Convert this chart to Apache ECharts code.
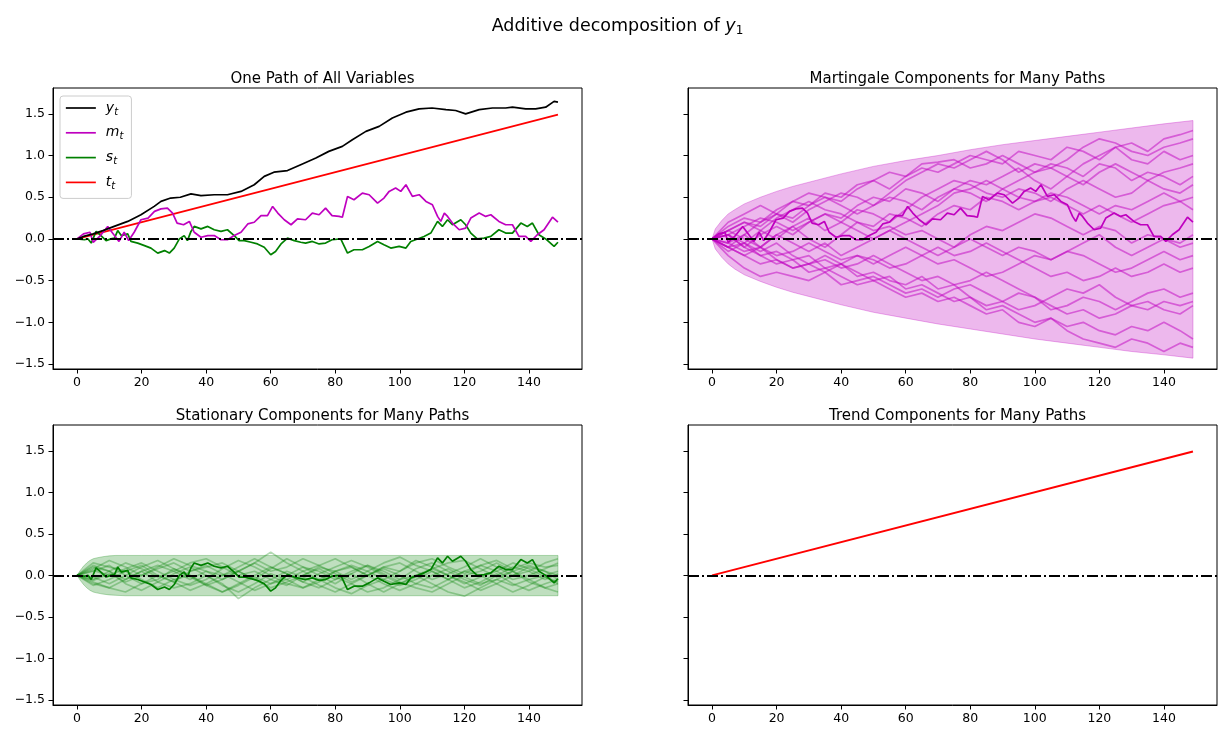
<!DOCTYPE html>
<html><head><meta charset="utf-8">
<script src="https://cdn.jsdelivr.net/npm/echarts@6/dist/echarts.min.js"></script>
<style>html,body{margin:0;padding:0;background:#fff}#c{width:1225px;height:739px}</style>
</head><body><div id="c"></div>
<script>
const FONT = 'DejaVu Sans';
const xTicks = [0, 20, 40, 60, 80, 100, 120, 140];
const yTicks = [-1.5, -1.0, -0.5, 0.0, 0.5, 1.0, 1.5];
const legendNames = ['y_t', 'm_t', 's_t', 't_t'];
const panelTitles = ['One Path of All Variables', 'Martingale Components for Many Paths',
                     'Stationary Components for Many Paths', 'Trend Components for Many Paths'];

// One path of all variables: [t, value]
const yPath = [[0,0],[2,0.03],[5,0.06],[8,0.1],[11.5,0.15],[15.7,0.21],[19.8,0.29],[23.9,0.39],[26,0.45],[29,0.49],[32,0.5],[35.3,0.54],[38.4,0.52],[42.5,0.53],[46.6,0.53],[50.8,0.57],[54.9,0.65],[58,0.75],[61,0.8],[65.2,0.82],[69.3,0.89],[74,0.97],[78,1.05],[82.2,1.11],[85.3,1.19],[89.5,1.29],[93.6,1.35],[97.7,1.45],[101.9,1.52],[106,1.56],[110,1.57],[114.3,1.55],[117.3,1.54],[120.4,1.5],[124.6,1.55],[128.7,1.57],[132.8,1.57],[134.9,1.58],[139,1.56],[142.1,1.56],[145.2,1.58],[147.8,1.65],[149,1.64]];
const mPath = [[0,0],[2,0.06],[4,0.08],[5,-0.04],[7,0.03],[9.5,0.15],[11,0.07],[13,-0.03],[14.6,0.08],[16,-0.02],[17.7,0.08],[19.8,0.23],[22,0.25],[24,0.33],[26,0.36],[28,0.37],[29.6,0.31],[31,0.19],[33,0.17],[34.8,0.21],[36.3,0.08],[38.4,0.02],[40.5,0.04],[42.5,0.04],[44.6,-0.01],[46.6,-0.01],[48.7,0.04],[50.8,0.08],[52.9,0.18],[54.9,0.2],[57,0.28],[59,0.28],[60.6,0.39],[62.2,0.31],[64.2,0.23],[66.3,0.17],[68.3,0.24],[70.8,0.23],[72.9,0.31],[75,0.29],[77,0.37],[79,0.28],[81.2,0.27],[82.2,0.26],[83.8,0.51],[85.8,0.47],[88.4,0.55],[90.5,0.53],[93.1,0.43],[95.1,0.49],[96.7,0.57],[98.7,0.61],[100.3,0.57],[101.9,0.65],[103.9,0.51],[106,0.53],[108.1,0.45],[110.1,0.41],[111.7,0.27],[112.7,0.21],[113.8,0.31],[114.8,0.27],[116.3,0.19],[118.4,0.11],[120.4,0.13],[122,0.25],[124.6,0.31],[126.6,0.27],[128.2,0.29],[130.7,0.21],[132.8,0.17],[134.9,0.17],[136.9,0.03],[139,0.03],[140.6,-0.03],[142.6,0.05],[144.7,0.11],[147.3,0.26],[149,0.2]];
const sPath = [[0,0],[2.3,-0.01],[3.4,0],[4.4,-0.05],[5.9,0.09],[7.4,0.04],[9,-0.02],[10.5,0],[11.6,0.01],[12.6,0.1],[13.7,0.04],[15.7,0.06],[16.7,-0.03],[18.8,-0.05],[20.9,-0.08],[22.9,-0.11],[25,-0.17],[27.1,-0.14],[28.6,-0.17],[30.1,-0.11],[31.7,0],[33.2,0.04],[34.2,-0.02],[35.3,0.09],[36.3,0.15],[38.4,0.12],[40.5,0.15],[42.5,0.11],[44.6,0.09],[46.6,0.11],[48.7,0.04],[50.2,-0.02],[51.8,-0.02],[53.9,-0.04],[55.9,-0.06],[58,-0.1],[60,-0.19],[61.5,-0.15],[63.2,-0.06],[65.2,0.01],[67.3,-0.02],[69.3,-0.04],[70.8,-0.05],[72.9,-0.03],[75,-0.06],[77,-0.05],[79,-0.01],[81.7,0],[83.8,-0.17],[85.8,-0.13],[88.4,-0.13],[90.5,-0.09],[93.1,-0.03],[95.1,-0.07],[97.2,-0.11],[99.8,-0.09],[101.9,-0.11],[103.4,-0.03],[105.5,0],[107.5,0.03],[109.6,0.07],[111.7,0.21],[113.2,0.15],[114.8,0.23],[116.3,0.17],[118.9,0.23],[120.4,0.17],[122,0.07],[124,0],[126.1,0.01],[128.2,0.03],[130.7,0.11],[132.8,0.07],[134.9,0.07],[137.5,0.19],[139.5,0.15],[141.1,0.19],[143.1,0.05],[145.2,0],[147.8,-0.09],[149,-0.04]];
const trendPath = [[0,0],[149,1.49]];

// Martingale confidence band
const mBandT = [0,1,2,3,5,7,10,15,20,25,30,40,50,60,70,80,90,100,110,120,130,140,149];
const mBandUpper = [0,0.12,0.17,0.22,0.3,0.35,0.42,0.5,0.57,0.63,0.68,0.78,0.87,0.94,1.0,1.07,1.13,1.18,1.23,1.28,1.33,1.38,1.42];
const mBandLower = [0,-0.12,-0.17,-0.22,-0.3,-0.36,-0.43,-0.51,-0.58,-0.64,-0.69,-0.79,-0.88,-0.95,-1.02,-1.08,-1.14,-1.2,-1.25,-1.3,-1.35,-1.39,-1.43];

// Stationary band
const sBandT = [0,1,2,3,4,5,6,8,10,12,15,20,40,60,80,100,120,149];
const sBandUpper = [0,0.06,0.11,0.15,0.18,0.2,0.21,0.225,0.235,0.24,0.24,0.24,0.24,0.24,0.24,0.24,0.24,0.24];
const sBandLower = [0,-0.06,-0.11,-0.15,-0.18,-0.2,-0.21,-0.225,-0.235,-0.24,-0.245,-0.245,-0.245,-0.245,-0.245,-0.245,-0.245,-0.245];

// Many paths, sampled every 5 periods
const pathT = [0,5,10,15,20,25,30,35,40,45,50,55,60,65,70,75,80,85,90,95,100,105,110,115,120,125,130,135,140,145,149];
const martingalePaths = [
  [0,0.15,0.25,0.2,0.35,0.45,0.4,0.55,0.5,0.65,0.7,0.6,0.75,0.85,0.8,0.9,1.0,0.95,0.9,1.05,1.0,0.95,1.1,1.05,0.95,1.1,1.15,1.05,1.2,1.25,1.3],
  [0,-0.1,0.05,0.2,0.3,0.25,0.4,0.5,0.45,0.6,0.7,0.8,0.75,0.9,0.92,0.95,0.85,0.9,1.0,0.9,0.8,0.85,0.95,1.1,1.2,1.15,1.05,1.0,1.1,1.15,1.2],
  [0,0.1,0.2,0.15,0.3,0.2,0.35,0.45,0.55,0.5,0.4,0.55,0.7,0.8,0.9,0.85,0.95,1.05,0.95,0.8,0.9,0.85,0.75,0.9,1.0,1.1,0.95,0.9,1.05,0.95,1.0],
  [0,0.05,-0.1,0.05,0.15,0.05,0.2,0.3,0.25,0.4,0.5,0.45,0.6,0.55,0.45,0.6,0.7,0.65,0.75,0.85,0.7,0.6,0.75,0.65,0.8,0.9,0.8,0.7,0.8,0.85,0.9],
  [0,0.2,0.3,0.4,0.3,0.45,0.55,0.5,0.4,0.3,0.4,0.5,0.45,0.35,0.5,0.6,0.55,0.45,0.6,0.7,0.8,0.9,0.85,0.75,0.9,0.85,0.7,0.8,0.75,0.65,0.75],
  [0,-0.15,-0.05,0.1,0.0,0.15,0.25,0.1,0.2,0.35,0.3,0.2,0.35,0.5,0.6,0.7,0.65,0.55,0.5,0.6,0.55,0.45,0.6,0.7,0.6,0.5,0.55,0.7,0.6,0.55,0.65],
  [0,0.1,0.0,-0.1,0.05,0.15,0.0,-0.1,0.05,0.2,0.15,0.3,0.25,0.15,0.3,0.4,0.35,0.5,0.45,0.35,0.45,0.55,0.5,0.4,0.3,0.4,0.35,0.45,0.55,0.45,0.5],
  [0,0.05,0.15,0.25,0.2,0.1,0.2,0.3,0.2,0.1,0.0,0.1,0.2,0.3,0.4,0.55,0.6,0.7,0.6,0.5,0.45,0.5,0.4,0.3,0.4,0.3,0.2,0.3,0.4,0.45,0.35],
  [0,-0.1,-0.2,-0.1,0.05,-0.05,-0.15,-0.05,-0.2,-0.1,0.0,0.1,0.0,-0.1,-0.2,-0.1,0.05,0.15,0.1,0.2,0.3,0.25,0.15,0.05,0.15,0.1,-0.05,0.05,0.0,-0.05,0.05],
  [0,0.1,0.2,0.1,0.25,0.35,0.45,0.35,0.3,0.2,0.1,0.15,0.05,0.1,0.0,-0.1,0.0,-0.1,-0.2,-0.1,-0.15,-0.25,-0.15,-0.05,0.05,-0.1,-0.2,-0.1,0.0,-0.1,-0.05],
  [0,-0.05,0.05,-0.1,-0.2,-0.15,-0.05,-0.15,-0.25,-0.2,-0.3,-0.2,-0.1,-0.2,-0.3,-0.25,-0.35,-0.45,-0.4,-0.3,-0.2,-0.25,-0.15,-0.2,-0.3,-0.4,-0.35,-0.25,-0.15,-0.25,-0.2],
  [0,-0.1,-0.2,-0.3,-0.25,-0.35,-0.3,-0.4,-0.3,-0.2,-0.25,-0.35,-0.3,-0.2,-0.1,-0.2,-0.15,-0.05,-0.15,-0.25,-0.35,-0.45,-0.4,-0.5,-0.45,-0.35,-0.45,-0.4,-0.3,-0.4,-0.35],
  [0,-0.05,-0.15,-0.1,-0.25,-0.35,-0.3,-0.2,-0.3,-0.45,-0.4,-0.5,-0.55,-0.45,-0.6,-0.55,-0.7,-0.8,-0.75,-0.65,-0.7,-0.85,-0.8,-0.7,-0.75,-0.85,-0.75,-0.65,-0.6,-0.7,-0.65],
  [0,0.05,-0.05,-0.15,-0.05,-0.2,-0.3,-0.25,-0.35,-0.3,-0.2,-0.3,-0.4,-0.5,-0.45,-0.55,-0.5,-0.4,-0.5,-0.6,-0.7,-0.8,-0.9,-0.85,-0.95,-0.9,-0.8,-0.85,-0.75,-0.8,-0.75],
  [0,-0.2,-0.35,-0.45,-0.4,-0.45,-0.5,-0.4,-0.55,-0.5,-0.45,-0.55,-0.65,-0.6,-0.7,-0.6,-0.55,-0.65,-0.75,-0.85,-0.8,-0.7,-0.6,-0.65,-0.55,-0.7,-0.8,-0.75,-0.85,-0.9,-0.8],
  [0,-0.1,-0.05,-0.2,-0.15,-0.25,-0.2,-0.35,-0.3,-0.4,-0.5,-0.45,-0.6,-0.55,-0.65,-0.75,-0.7,-0.85,-0.8,-0.9,-1.0,-0.95,-1.05,-1.0,-1.1,-1.15,-1.05,-1.1,-1.0,-1.1,-1.2],
  [0,0.05,-0.1,-0.2,-0.3,-0.25,-0.4,-0.35,-0.45,-0.55,-0.5,-0.6,-0.7,-0.65,-0.75,-0.7,-0.8,-0.9,-0.85,-1.0,-1.05,-0.95,-1.1,-1.2,-1.25,-1.3,-1.2,-1.25,-1.35,-1.25,-1.3]
];
const stationaryPaths = [
  [0,0.15,0.1,0.05,0.12,0.0,-0.08,0.05,0.1,0.15,0.05,-0.05,0.08,0.2,0.1,0.0,-0.1,0.02,0.12,0.05,-0.05,0.08,0.15,0.05,-0.05,-0.12,0.0,0.1,0.05,-0.05,0.02],
  [0,-0.1,-0.15,-0.05,0.05,-0.08,-0.15,-0.1,0.0,-0.12,-0.2,-0.1,0.02,-0.05,-0.15,-0.08,0.05,0.1,0.0,-0.1,-0.18,-0.1,0.0,0.08,-0.02,-0.1,-0.05,0.05,-0.08,-0.15,-0.1],
  [0,0.08,0.18,0.1,0.0,0.1,0.2,0.12,0.05,-0.05,0.05,0.15,0.28,0.15,0.05,0.12,0.2,0.1,0.0,0.1,0.05,0.15,0.2,0.1,0.02,0.12,0.18,0.08,0.15,0.1,0.12],
  [0,-0.05,0.05,-0.1,-0.18,-0.08,0.02,0.1,0.0,-0.1,-0.28,-0.15,-0.05,0.05,-0.02,-0.12,-0.2,-0.1,0.0,0.08,0.0,-0.1,-0.15,-0.05,0.05,0.0,-0.1,-0.2,-0.12,-0.02,-0.08],
  [0,0.1,0.05,0.15,0.08,-0.02,0.05,0.15,0.2,0.1,0.0,0.05,-0.05,-0.12,0.0,0.1,0.05,-0.05,0.05,0.15,0.22,0.12,0.05,-0.05,0.05,0.12,0.05,-0.05,0.0,0.08,0.15],
  [0,-0.12,-0.05,0.05,-0.05,-0.15,-0.05,0.0,-0.1,-0.2,-0.12,-0.02,-0.1,-0.05,0.05,-0.05,-0.15,-0.22,-0.12,-0.05,-0.12,-0.05,0.05,-0.05,-0.15,-0.08,0.02,-0.1,-0.18,-0.1,-0.05],
  [0,0.05,0.12,0.0,-0.1,-0.05,0.08,0.0,-0.12,-0.05,0.05,0.15,0.05,0.1,0.2,0.12,0.02,-0.08,0.0,0.1,0.15,0.05,-0.05,0.02,0.1,0.2,0.1,0.0,0.05,0.15,0.2],
  [0,-0.08,-0.15,-0.2,-0.1,0.0,-0.08,-0.18,-0.1,0.0,0.05,-0.05,-0.15,-0.08,0.0,0.08,-0.02,-0.1,-0.2,-0.15,-0.05,0.0,-0.1,-0.2,-0.25,-0.15,-0.05,-0.12,-0.05,-0.15,-0.2],
  [0,0.12,0.05,-0.05,0.05,0.12,0.05,-0.05,0.05,0.0,0.1,0.2,0.1,0.02,-0.08,0.02,0.1,0.18,0.1,0.0,-0.1,-0.02,0.08,0.15,0.18,0.08,-0.02,0.05,0.12,0.05,0.0],
  [0,-0.02,-0.1,0.0,0.1,0.18,0.08,-0.02,-0.12,-0.2,-0.1,0.0,0.1,0.02,-0.08,-0.15,-0.05,0.05,0.12,0.02,-0.08,-0.15,-0.2,-0.1,0.0,0.05,0.15,0.05,-0.05,0.0,0.05],
  [0,0.06,0.0,0.08,0.15,0.05,-0.05,-0.12,-0.05,0.08,0.18,0.1,0.0,-0.1,-0.15,-0.05,0.05,0.12,0.05,-0.05,0.05,0.18,0.1,0.0,-0.1,-0.02,0.05,0.15,0.08,-0.02,-0.1],
  [0,-0.06,0.02,-0.08,0.0,0.08,0.15,0.05,0.12,0.02,-0.08,-0.18,-0.1,0.0,0.1,0.05,-0.05,0.02,-0.1,-0.2,-0.1,0.0,0.08,0.0,-0.08,-0.18,-0.1,0.0,0.1,0.05,-0.05]
];

const C_BLACK = '#000000', C_MAG = '#bf00bf', C_GREEN = '#008000', C_RED = '#ff0000';
const LW = 1.7;

const grids = [
  {left: 53, top: 88, width: 529, height: 281},
  {left: 688, top: 88, width: 529, height: 281},
  {left: 53, top: 425, width: 529, height: 280},
  {left: 688, top: 425, width: 529, height: 280}
].map(g => Object.assign({show: true, borderColor: '#000', borderWidth: 1, backgroundColor: 'transparent'}, g));

const fmtNum = v => v.toFixed(1).replace('-', '\u2212');

const xAxes = grids.map((g, i) => ({
  type: 'value', gridIndex: i, min: -7.45, max: 156.45,
  splitLine: {show: false},
  axisLine: {show: true, onZero: false, lineStyle: {color: '#000', width: 1}},
  axisTick: {show: true, length: 4.5, customValues: xTicks, lineStyle: {color: '#000', width: 1}},
  axisLabel: {show: true, customValues: xTicks, color: '#000', fontSize: 12.5, fontFamily: FONT, margin: 7,
              formatter: v => String(Math.round(v))}
}));
const yAxes = grids.map((g, i) => ({
  type: 'value', gridIndex: i, min: -1.56, max: 1.81,
  splitLine: {show: false},
  axisLine: {show: true, onZero: false, lineStyle: {color: '#000', width: 1}},
  axisTick: {show: true, length: 4.5, customValues: yTicks, lineStyle: {color: '#000', width: 1}},
  axisLabel: {show: i % 2 === 0, customValues: yTicks, color: '#000', fontSize: 12.5, fontFamily: FONT, margin: 8,
              formatter: v => fmtNum(v)}
}));

const zeroLine = {
  silent: true, symbol: ['none', 'none'], label: {show: false}, z: 20,
  lineStyle: {type: [11, 3, 2, 3], color: '#000', width: 1.9},
  emphasis: {disabled: true},
  data: [{yAxis: 0}]
};

function lineSeries(name, gi, data, color, width, opacity, z) {
  return {
    name: name, type: 'line', xAxisIndex: gi, yAxisIndex: gi, data: data,
    symbol: 'none', symbolSize: 0, showSymbol: false, silent: true, z: z || 2,
    lineStyle: {color: color, width: width, opacity: opacity},
    itemStyle: {color: color}
  };
}
function bandSeries(gi, ts, up, lo, fill, stroke) {
  return {
    type: 'custom', xAxisIndex: gi, yAxisIndex: gi, silent: true, z: 1,
    data: [[ts[0], up[0]]],
    renderItem: function (params, api) {
      const pts = [];
      for (let i = 0; i < ts.length; i++) pts.push(api.coord([ts[i], up[i]]));
      for (let i = ts.length - 1; i >= 0; i--) pts.push(api.coord([ts[i], lo[i]]));
      return {type: 'polygon', shape: {points: pts}, style: {fill: fill, stroke: stroke, lineWidth: 1}};
    }
  };
}
const zip = (ts, vs) => vs.map((v, i) => [ts[i], v]);

const series = [];
// Panel 1
series.push(lineSeries(legendNames[3], 0, trendPath, C_RED, LW, 1, 3));
series.push(lineSeries(legendNames[2], 0, sPath, C_GREEN, LW, 1, 4));
series.push(lineSeries(legendNames[1], 0, mPath, C_MAG, LW, 1, 5));
series.push(lineSeries(legendNames[0], 0, yPath, C_BLACK, LW, 1, 6));
series[series.length - 1].markLine = zeroLine;
// Panel 2
series.push(bandSeries(1, mBandT, mBandUpper, mBandLower, 'rgba(191,0,191,0.28)', 'rgba(191,0,191,0.3)'));
martingalePaths.forEach((p, k) => series.push(lineSeries('mp' + k, 1, zip(pathT, p), C_MAG, LW, 0.5, 2)));
const mDark = lineSeries('mdark', 1, mPath, C_MAG, LW, 1, 3);
mDark.markLine = zeroLine;
series.push(mDark);
// Panel 3
series.push(bandSeries(2, sBandT, sBandUpper, sBandLower, 'rgba(0,128,0,0.25)', 'rgba(0,128,0,0.28)'));
stationaryPaths.forEach((p, k) => series.push(lineSeries('sp' + k, 2, zip(pathT, p), C_GREEN, LW, 0.3, 2)));
const sDark = lineSeries('sdark', 2, sPath, C_GREEN, LW, 1, 3);
sDark.markLine = zeroLine;
series.push(sDark);
// Panel 4
const tLine = lineSeries('trend', 3, trendPath, C_RED, 2, 1, 3);
tLine.markLine = zeroLine;
series.push(tLine);

const titleCenters = [[317.5, 67], [952.5, 67], [317.5, 404], [952.5, 404]];
const titles = [{
  text: '{n|Additive decomposition of }{i|y}{s|1}',
  left: 612.5, top: 10, textAlign: 'center',
  textStyle: {fontWeight: 'normal', rich: {
    n: {fontSize: 17.5, fontFamily: FONT, fontWeight: 'normal', color: '#000'},
    i: {fontSize: 17.5, fontFamily: FONT, fontWeight: 'normal', fontStyle: 'italic', color: '#000'},
    s: {fontSize: 12, fontFamily: FONT, fontWeight: 'normal', color: '#000', padding: [10, 0, 0, 0]}
  }}
}].concat(panelTitles.map((t, i) => ({
  text: t, left: titleCenters[i][0], top: titleCenters[i][1], textAlign: 'center',
  textStyle: {fontSize: 15, fontWeight: 'normal', fontFamily: FONT, color: '#000'}
})));

const option = {
  animation: false,
  backgroundColor: '#fff',
  title: titles,
  grid: grids,
  xAxis: xAxes,
  yAxis: yAxes,
  legend: {
    data: legendNames, orient: 'vertical', left: 60, top: 96,
    itemWidth: 30, itemHeight: 14, itemGap: 8.8,
    padding: [5, 8, 7, 5],
    backgroundColor: 'rgba(255,255,255,0.8)', borderColor: '#cccccc', borderWidth: 1, borderRadius: 3,
    selectedMode: false,
    itemStyle: {opacity: 0},
    lineStyle: {width: LW},
    formatter: name => { const p = name.split('_'); return '{i|' + p[0] + '}{s|' + p[1] + '}'; },
    textStyle: {padding: [0, 0, 0, 5], rich: {
      i: {fontSize: 14, fontFamily: FONT, fontStyle: 'italic', color: '#000'},
      s: {fontSize: 10, fontFamily: FONT, fontStyle: 'italic', color: '#000', padding: [8, 0, 0, 0]}
    }}
  },
  series: series
};
const chart = echarts.init(document.getElementById('c'), null, {renderer: 'canvas'});
chart.setOption(option);
</script>
</body></html>
